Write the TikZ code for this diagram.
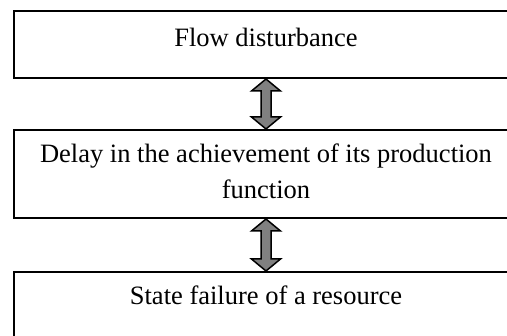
\documentclass[tikz,border=0pt]{standalone}
\usepackage{fontspec}
\setmainfont{Liberation Serif}
\usetikzlibrary{calc}
\definecolor{arrgray}{HTML}{808080}
\tikzset{
  box/.style={draw=black, line width=2pt, minimum width=504pt, inner sep=0pt, anchor=north},
  txt/.style={font=\fontsize{26.5}{36}\selectfont, anchor=base, inner sep=0pt, align=center},
  darr/.style={draw=black, fill=arrgray, line width=1.5pt, line join=miter}
}
\begin{document}
\begin{tikzpicture}[x=1pt, y=-1pt]
\useasboundingbox (0,0) rectangle (507,336);
\clip (0,0) rectangle (507,336);
\node[box, minimum height=67pt] (top) at (266,10) {};
\node[box, minimum height=88pt] (mid) at (266,129) {};
\node[box, minimum height=80pt] (bot) at (266,271) {};
\node[txt] (t1) at ($(top.north)+(0,37)$) {Flow disturbance};
\node[txt] (t2) at ($(mid.north)+(0,34)$) {Delay in the achievement of its production};
\node[txt] (t2b) at ($(mid.north)+(0,70)$) {function};
\node[txt] (t3) at ($(bot.north)+(0,34)$) {State failure of a resource};
\foreach \a/\b in {top/mid, mid/bot}{
  \draw[darr] (\a.south) -- ++(14.5,12) -- ++(-9.5,0) -- ($(\b.north)+(5,-12)$) -- ++(9.5,0) -- (\b.north)
    -- ++(-14.5,-12) -- ++(9.5,0) -- ($(\a.south)+(-5,12)$) -- ++(-9.5,0) -- cycle;
}
\end{tikzpicture}
\end{document}
